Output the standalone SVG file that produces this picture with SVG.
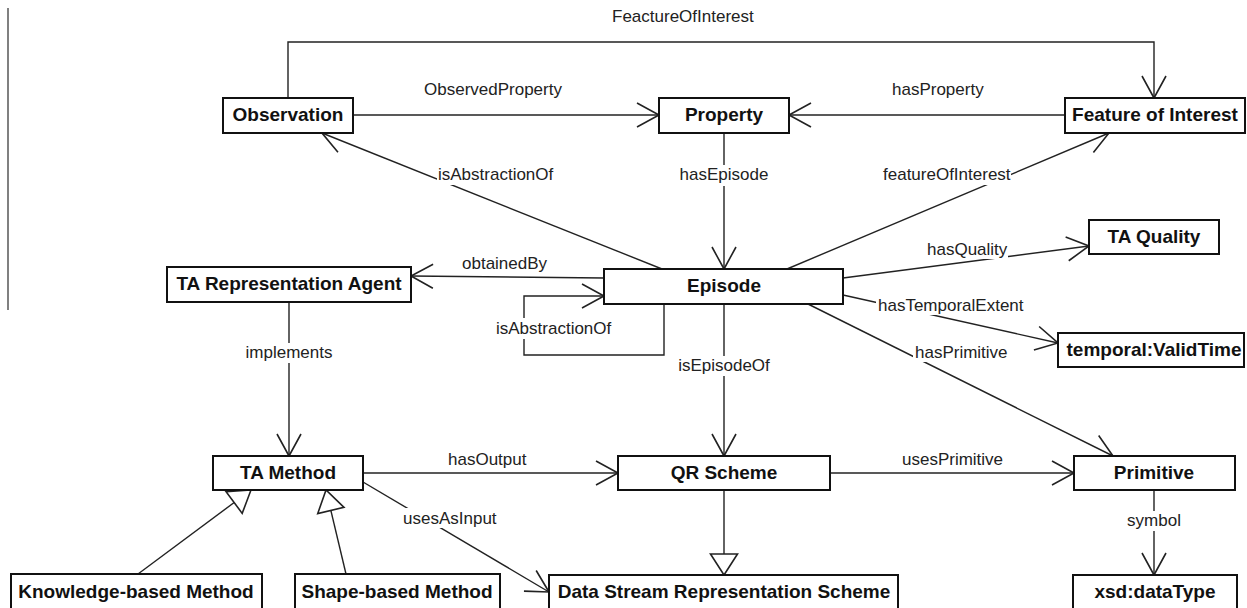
<svg xmlns="http://www.w3.org/2000/svg" width="1247" height="608" viewBox="0 0 1247 608">
  <style>
    .node rect { fill: #fff; stroke: #111; stroke-width: 2; }
    .node text { font-family: "Liberation Sans", Arial, sans-serif; font-size: 19px; font-weight: bold; fill: #111; text-anchor: middle; }
    .edge { fill: none; stroke: #222; stroke-width: 1.4; }
    .assoc { marker-end: url(#open); }
    .gen { marker-end: url(#tri); }
    .lbl { font-family: "Liberation Sans", Arial, sans-serif; font-size: 17px; fill: #222; }
    .mid { text-anchor: middle; }
    .bg { fill: #fff; stroke: none; }
  </style>
  <defs>
    <!-- open arrowhead for associations -->
    <marker id="open" markerUnits="userSpaceOnUse" viewBox="-26 -16 30 32" refX="0" refY="0" markerWidth="30" markerHeight="32" orient="auto" overflow="visible">
      <path d="M-22,-12 L0,0 L-22,12" fill="none" stroke="#222" stroke-width="1.6"/>
    </marker>
    <!-- hollow triangle for generalization -->
    <marker id="tri" markerUnits="userSpaceOnUse" viewBox="-24 -16 28 32" refX="0" refY="0" markerWidth="28" markerHeight="32" orient="auto" overflow="visible">
      <path d="M0,0 L-21,-13.5 L-21,13.5 Z" fill="#fff" stroke="#222" stroke-width="1.6"/>
    </marker>
  </defs>

  <rect width="1247" height="608" fill="#fff"/>

  <!-- margin rule -->
  <line x1="8" y1="8" x2="8" y2="310" stroke="#808080" stroke-width="2"/>

  <g id="connectors">
    <polyline class="edge assoc" points="288,98 288,42 1154,42 1154,98"/>
    <line class="edge assoc" x1="353" y1="115" x2="659" y2="115"/>
    <line class="edge assoc" x1="1065" y1="115" x2="789" y2="115"/>
    <line class="edge assoc" x1="724" y1="133" x2="724" y2="269"/>
    <line class="edge assoc" x1="662" y1="269" x2="322" y2="133"/>
    <line class="edge assoc" x1="787" y1="269" x2="1109" y2="133"/>
    <line class="edge assoc" x1="604" y1="278" x2="411" y2="276"/>
    <polyline class="edge assoc" points="664,304 664,355 524,355 524,296 604,296"/>
    <line class="edge assoc" x1="843" y1="278" x2="1089" y2="246"/>
    <line class="edge assoc" x1="843" y1="295" x2="1058" y2="343"/>
    <line class="edge assoc" x1="808" y1="304" x2="1113" y2="456"/>
    <line class="edge assoc" x1="724" y1="304" x2="724" y2="456"/>
    <line class="edge assoc" x1="289" y1="302" x2="289" y2="456"/>
    <line class="edge assoc" x1="363" y1="473" x2="618" y2="473"/>
    <line class="edge assoc" x1="363" y1="482" x2="549" y2="592"/>
    <line class="edge assoc" x1="830" y1="473" x2="1074" y2="473"/>
    <line class="edge assoc" x1="1154" y1="490" x2="1154" y2="575"/>
    <line class="edge gen" x1="724" y1="490" x2="724" y2="575"/>
    <line class="edge gen" x1="138" y1="574" x2="251" y2="490"/>
    <line class="edge gen" x1="346" y1="574" x2="326" y2="490"/>

    <!-- label backgrounds interrupt the lines they sit on -->
    <rect class="bg" x="679" y="165" width="91" height="21"/>
    <rect class="bg" x="437" y="165" width="118" height="20"/>
    <rect class="bg" x="881" y="165" width="130" height="20"/>
    <rect class="bg" x="494" y="318" width="118" height="21"/>
    <rect class="bg" x="677" y="356" width="94" height="20"/>
    <rect class="bg" x="244" y="343" width="90" height="20"/>
    <rect class="bg" x="402" y="508" width="95" height="20"/>
    <rect class="bg" x="913" y="342" width="95" height="20"/>
    <rect class="bg" x="876" y="295" width="149" height="20"/>
    <rect class="bg" x="925" y="240" width="83" height="19"/>
    <rect class="bg" x="1127" y="511" width="55" height="20"/>

    <text class="lbl" x="612" y="22">FeactureOfInterest</text>
    <text class="lbl" x="424" y="95">ObservedProperty</text>
    <text class="lbl" x="892" y="95">hasProperty</text>
    <text class="lbl mid" x="724" y="180">hasEpisode</text>
    <text class="lbl" x="438" y="180">isAbstractionOf</text>
    <text class="lbl" x="883" y="180">featureOfInterest</text>
    <text class="lbl" x="462" y="269">obtainedBy</text>
    <text class="lbl" x="496" y="334">isAbstractionOf</text>
    <text class="lbl mid" x="724" y="371">isEpisodeOf</text>
    <text class="lbl mid" x="289" y="358">implements</text>
    <text class="lbl" x="927" y="255">hasQuality</text>
    <text class="lbl" x="878" y="311">hasTemporalExtent</text>
    <text class="lbl" x="915" y="358">hasPrimitive</text>
    <text class="lbl" x="448" y="465">hasOutput</text>
    <text class="lbl" x="403" y="524">usesAsInput</text>
    <text class="lbl" x="902" y="465">usesPrimitive</text>
    <text class="lbl mid" x="1154" y="526">symbol</text>
  </g>

  <g id="observation" class="node"><rect x="223" y="98" width="130" height="35"/><text x="288" y="121">Observation</text></g>
  <g id="property" class="node"><rect x="659" y="98" width="130" height="35"/><text x="724" y="121">Property</text></g>
  <g id="feature-of-interest" class="node"><rect x="1065" y="98" width="180" height="35"/><text x="1155" y="121">Feature of Interest</text></g>
  <g id="ta-representation-agent" class="node"><rect x="167" y="267" width="244" height="35"/><text x="289" y="290">TA Representation Agent</text></g>
  <g id="episode" class="node"><rect x="604" y="269" width="239" height="35"/><text x="724" y="292">Episode</text></g>
  <g id="ta-quality" class="node"><rect x="1089" y="220" width="130" height="34"/><text x="1154" y="243">TA Quality</text></g>
  <g id="valid-time" class="node"><rect x="1058" y="333" width="186" height="34"/><text x="1154" y="356">temporal:ValidTime</text></g>
  <g id="ta-method" class="node"><rect x="213" y="456" width="150" height="34"/><text x="288" y="479">TA Method</text></g>
  <g id="qr-scheme" class="node"><rect x="618" y="456" width="212" height="34"/><text x="724" y="479">QR Scheme</text></g>
  <g id="primitive" class="node"><rect x="1074" y="456" width="161" height="34"/><text x="1154" y="479">Primitive</text></g>
  <g id="knowledge-based-method" class="node"><rect x="11" y="574" width="251" height="40"/><text x="136" y="598">Knowledge-based Method</text></g>
  <g id="shape-based-method" class="node"><rect x="295" y="574" width="205" height="40"/><text x="397" y="598">Shape-based Method</text></g>
  <g id="data-stream-representation-scheme" class="node"><rect x="549" y="575" width="349" height="40"/><text x="724" y="598">Data Stream Representation Scheme</text></g>
  <g id="xsd-datatype" class="node"><rect x="1073" y="575" width="164" height="40"/><text x="1155" y="598">xsd:dataType</text></g>
</svg>
